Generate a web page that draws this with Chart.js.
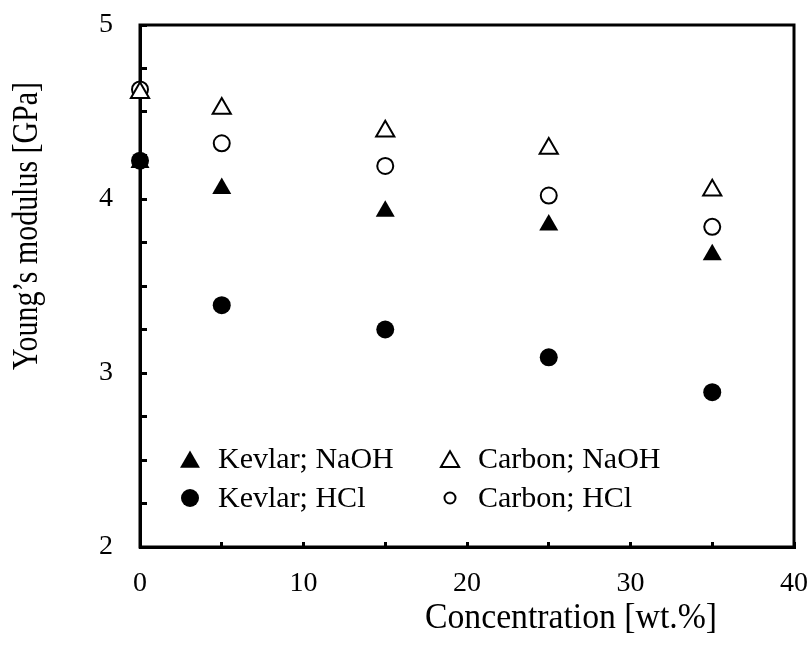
<!DOCTYPE html>
<html>
<head>
<meta charset="utf-8">
<script src="https://cdn.jsdelivr.net/npm/chart.js@4/dist/chart.umd.min.js"></script>
<style>
  body { margin: 0; background: #fff; }
</style>
</head>
<body>
<canvas id="modulusChart" width="807" height="652"></canvas>
<script>
var concentration = [0, 5, 15, 25, 35];
var kevlarNaOH = [4.21, 4.06, 3.93, 3.85, 3.68];
var carbonNaOH = [4.61, 4.52, 4.39, 4.29, 4.05];
var kevlarHCl = [4.22, 3.39, 3.25, 3.09, 2.89];
var carbonHCl = [4.63, 4.32, 4.19, 4.02, 3.84];

var serif = "'Liberation Serif', 'Times New Roman', serif";

function points(ys) {
  return concentration.map(function (x, i) {
    return { x: x, y: ys[i] };
  });
}

// legend rows: two columns, NaOH on top, HCl below
var legendItems = [
  { label: "Kevlar; NaOH", style: "triangle", fill: "#000", r: 11.5, col: 0, row: 0 },
  { label: "Carbon; NaOH", style: "triangle", fill: "#fff", r: 10.5, col: 1, row: 0 },
  { label: "Kevlar; HCl", style: "circle", fill: "#000", r: 9, col: 0, row: 1 },
  { label: "Carbon; HCl", style: "circle", fill: "#fff", r: 5.5, col: 1, row: 1 }
];

// text drawn a little narrower than the font's natural width
function narrowText(ctx, text, x, y, sx) {
  ctx.save();
  ctx.translate(x, y);
  ctx.scale(sx, 1);
  ctx.fillText(text, 0, 0);
  ctx.restore();
}

var framePlugin = {
  id: "frame",
  beforeDatasetsDraw: function (chart) {
    var a = chart.chartArea, ctx = chart.ctx;
    ctx.save();
    ctx.strokeStyle = "#000";
    ctx.lineWidth = 3;
    ctx.strokeRect(a.left, a.top, a.right - a.left, a.bottom - a.top);
    ctx.restore();
  }
};

var textPlugin = {
  id: "texts",
  afterDraw: function (chart) {
    var a = chart.chartArea, ctx = chart.ctx;
    ctx.save();

    // legend
    ctx.font = "30px " + serif;
    ctx.textAlign = "left";
    ctx.textBaseline = "alphabetic";
    legendItems.forEach(function (it) {
      var mx = a.left + 50 + it.col * 260;
      var my = a.top + 434 + it.row * 39;
      if (it.style === "triangle") my += it.r / 4;
      ctx.fillStyle = it.fill;
      ctx.strokeStyle = "#000";
      Chart.helpers.drawPoint(ctx, {
        pointStyle: it.style,
        radius: it.r,
        rotation: 0,
        borderWidth: it.fill === "#fff" ? 2 : 0
      }, mx, my);
      ctx.fillStyle = "#000";
      ctx.fillText(it.label, a.left + 78 + it.col * 260, a.top + 443 + it.row * 39);
    });

    // axis titles
    ctx.font = "36px " + serif;
    ctx.textAlign = "center";
    var xTitle = "Concentration [wt.%]";
    narrowText(ctx, xTitle, 571, 628, 292 / ctx.measureText(xTitle).width);

    var yTitle = "Young\u2019s modulus [GPa]";
    var sy = 288 / ctx.measureText(yTitle).width;
    ctx.translate(37, 226);
    ctx.rotate(-Math.PI / 2);
    narrowText(ctx, yTitle, 0, 0, sy);
    ctx.restore();
  }
};

var ctx = document.getElementById("modulusChart").getContext("2d");
var modulusChart = new Chart(ctx, {
  type: "scatter",
  data: {
    datasets: [
      {
        label: "Kevlar; NaOH",
        data: points(kevlarNaOH),
        pointStyle: "triangle",
        pointRadius: 11,
        backgroundColor: "#000",
        borderColor: "#000",
        borderWidth: 0,
        clip: false
      },
      {
        label: "Carbon; NaOH",
        data: points(carbonNaOH),
        pointStyle: "triangle",
        pointRadius: 10.5,
        backgroundColor: "#fff",
        borderColor: "#000",
        borderWidth: 2,
        clip: false
      },
      {
        label: "Kevlar; HCl",
        data: points(kevlarHCl),
        pointStyle: "circle",
        pointRadius: 9,
        backgroundColor: "#000",
        borderColor: "#000",
        borderWidth: 0,
        clip: false
      },
      {
        label: "Carbon; HCl",
        data: points(carbonHCl),
        pointStyle: "circle",
        pointRadius: 8,
        backgroundColor: "#fff",
        borderColor: "#000",
        borderWidth: 2,
        clip: false
      }
    ]
  },
  options: {
    responsive: false,
    animation: false,
    layout: {
      padding: { top: 25, right: 13, left: 0, bottom: 0 }
    },
    plugins: {
      legend: { display: false },
      tooltip: { enabled: false }
    },
    scales: {
      x: {
        type: "linear",
        min: 0,
        max: 40,
        afterFit: function (scale) {
          scale.height = 105;
          scale.paddingLeft = 0;
          scale.paddingRight = 0;
        },
        border: { display: true, color: "#000", width: 3 },
        grid: {
          drawOnChartArea: false,
          drawTicks: true,
          tickLength: -5,
          tickWidth: 3,
          tickColor: "#000"
        },
        ticks: {
          stepSize: 5,
          autoSkip: false,
          maxRotation: 0,
          padding: 25,
          color: "#000",
          font: { family: serif, size: 28 },
          callback: function (v) { return v % 10 === 0 ? v : ""; }
        }
      },
      y: {
        type: "linear",
        min: 2,
        max: 5,
        afterFit: function (scale) {
          scale.width = 140;
          scale.paddingTop = 0;
          scale.paddingBottom = 0;
        },
        border: { display: true, color: "#000", width: 3 },
        grid: {
          drawOnChartArea: false,
          drawTicks: true,
          tickLength: -7,
          tickWidth: 3,
          tickColor: "#000"
        },
        ticks: {
          stepSize: 0.25,
          maxTicksLimit: 100,
          autoSkip: false,
          padding: 34,
          color: "#000",
          font: { family: serif, size: 28 },
          callback: function (v) { return Number.isInteger(v) ? v : ""; }
        }
      }
    }
  },
  plugins: [framePlugin, textPlugin]
});
</script>
</body>
</html>
